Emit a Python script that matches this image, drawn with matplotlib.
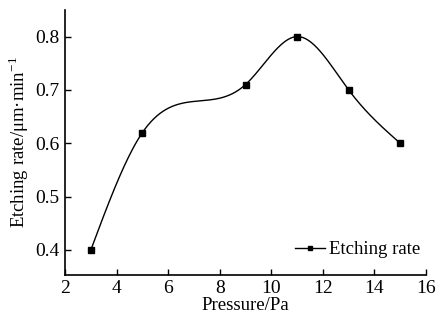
import numpy as np
import matplotlib
matplotlib.use("Agg")
import matplotlib.pyplot as plt

pressure = [3, 5, 9, 11, 13, 15]
rate = [0.40, 0.62, 0.71, 0.80, 0.70, 0.60]
x_ticks = [2, 4, 6, 8, 10, 12, 14, 16]
y_ticks = [0.4, 0.5, 0.6, 0.7, 0.8]


def natural_spline(x, y, xs):
    x = np.asarray(x, float); y = np.asarray(y, float)
    n = len(x)
    h = np.diff(x)
    A = np.zeros((n, n)); b = np.zeros(n)
    A[0, 0] = 1; A[-1, -1] = 1
    for i in range(1, n - 1):
        A[i, i - 1] = h[i - 1]
        A[i, i] = 2 * (h[i - 1] + h[i])
        A[i, i + 1] = h[i]
        b[i] = 3 * ((y[i + 1] - y[i]) / h[i] - (y[i] - y[i - 1]) / h[i - 1])
    c = np.linalg.solve(A, b)
    out = np.empty_like(xs)
    for k, xv in enumerate(xs):
        i = min(max(np.searchsorted(x, xv) - 1, 0), n - 2)
        dx = xv - x[i]
        bi = (y[i + 1] - y[i]) / h[i] - h[i] * (2 * c[i] + c[i + 1]) / 3
        di = (c[i + 1] - c[i]) / (3 * h[i])
        out[k] = y[i] + bi * dx + c[i] * dx ** 2 + di * dx ** 3
    return out


plt.rcParams['font.family'] = ['Liberation Serif', 'DejaVu Serif']
plt.rcParams['mathtext.fontset'] = 'stix'
fig = plt.figure(figsize=(4.4, 3.2), dpi=100)
ax = fig.add_axes([0.148, 0.141, 0.82, 0.828])

xs = np.linspace(pressure[0], pressure[-1], 300)
ax.plot(xs, natural_spline(pressure, rate, xs), color='black', lw=1.0)
ax.plot(pressure, rate, 's', color='black', ms=4.5)
ax.plot([], [], '-s', color='black', lw=1.0, ms=3, label='Etching rate')

ax.set_xlim(2, 16)
ax.set_ylim(0.353, 0.85)
ax.set_xticks(x_ticks)
ax.set_yticks(y_ticks)
ax.set_yticklabels([f"{v:.1f}" for v in y_ticks])
ax.spines['top'].set_visible(False)
ax.spines['right'].set_visible(False)
ax.spines['left'].set_linewidth(1.2)
ax.spines['bottom'].set_linewidth(1.2)
ax.tick_params(direction='in', length=4, width=1.0, labelsize=14, pad=4)
ax.set_xlabel('Pressure/Pa', fontsize=13.5, labelpad=0)
ax.set_ylabel('Etching rate/μm·min$^{\\mathregular{-1}}$', fontsize=13.5, labelpad=3)
ax.legend(loc='lower right', frameon=False, fontsize=13.5, handlelength=1.6,
          handletextpad=0.2, borderaxespad=0.0, bbox_to_anchor=(1.005, 0.035))
fig.savefig('out.png', dpi=100)
